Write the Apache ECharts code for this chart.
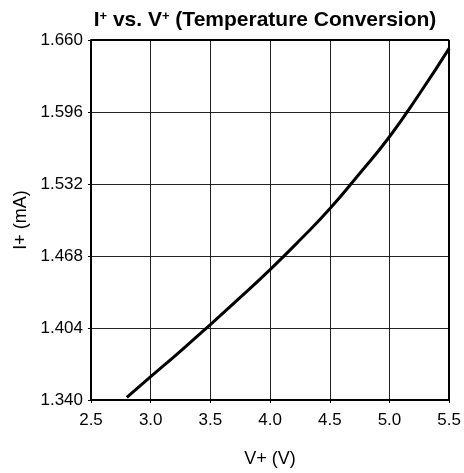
<!DOCTYPE html>
<html><head><meta charset="utf-8">
<script src="https://cdn.jsdelivr.net/npm/echarts@6/dist/echarts.min.js"></script>
<style>html,body{margin:0;padding:0;background:#fff}#c{width:464px;height:473px}</style>
</head><body><div id="c"></div>
<script>
const voltage = [2.8, 3.0, 3.25, 3.5, 3.75, 4.0, 4.25, 4.5, 4.75, 5.0, 5.25, 5.5];
const current = [1.3423, 1.3607, 1.3835, 1.4071, 1.4312, 1.4559, 1.4822, 1.5099, 1.5414, 1.5740, 1.6120, 1.6526];
const xTicks = [2.5, 3.0, 3.5, 4.0, 4.5, 5.0, 5.5];
const yTicks = [1.340, 1.404, 1.468, 1.532, 1.596, 1.660];

const font = 'Liberation Sans, Arial, sans-serif';
const chart = echarts.init(document.getElementById('c'));
chart.setOption({
  animation: false,
  title: {
    text: '{b|I}{s|+}{b| vs. V}{s|+}{b| (Temperature Conversion)}',
    left: 260, top: 5, textAlign: 'center',
    textStyle: {
      rich: {
        b: {fontFamily: font, fontWeight: 'bold', fontSize: 21, color: '#000', verticalAlign: 'bottom'},
        s: {fontFamily: font, fontWeight: 'bold', fontSize: 13, color: '#000', padding: [0,0,8,0], verticalAlign: 'bottom'}
      }
    }
  },
  grid: {left: 91, right: 12, top: 40, bottom: 73, show: false},
  xAxis: {
    type: 'value', min: 2.5, max: 5.5, interval: 0.5,
    name: 'V+ (V)', nameLocation: 'middle', nameGap: 50,
    nameTextStyle: {fontFamily: font, fontSize: 18, color: '#000'},
    axisLine: {show: true, onZero: false, lineStyle: {color: '#000', width: 2}},
    axisTick: {show: true, length: 3, lineStyle: {color: '#000'}},
    axisLabel: {fontFamily: font, fontSize: 17, color: '#000', margin: 12,
      formatter: v => v.toFixed(1)},
    splitLine: {show: true, lineStyle: {color: '#222', width: 1}}
  },
  yAxis: {
    type: 'value', min: 1.340, max: 1.660, interval: 0.064,
    name: 'I+ (mA)', nameLocation: 'middle', nameGap: 58, nameRotate: 90,
    nameTextStyle: {fontFamily: font, fontSize: 18, color: '#000'},
    axisLine: {show: true, onZero: false, lineStyle: {color: '#000', width: 2}},
    axisTick: {show: true, length: 3, lineStyle: {color: '#000'}},
    axisLabel: {fontFamily: font, fontSize: 17, color: '#000', margin: 8,
      formatter: v => v.toFixed(3)},
    splitLine: {show: true, lineStyle: {color: '#222', width: 1}}
  },
  series: [{
    type: 'line',
    data: voltage.map((v, i) => [v, current[i]]),
    smooth: true, showSymbol: false,
    lineStyle: {color: '#000', width: 3}
  }, {
    type: 'line', data: [], markLine: {silent: true, symbol: 'none', label: {show: false},
      lineStyle: {color: '#000', width: 2, type: 'solid'},
      data: [[{coord: [2.5, 1.660]}, {coord: [5.5, 1.660]}], [{coord: [5.5, 1.340]}, {coord: [5.5, 1.660]}]]}
  }]
});
</script></body></html>
